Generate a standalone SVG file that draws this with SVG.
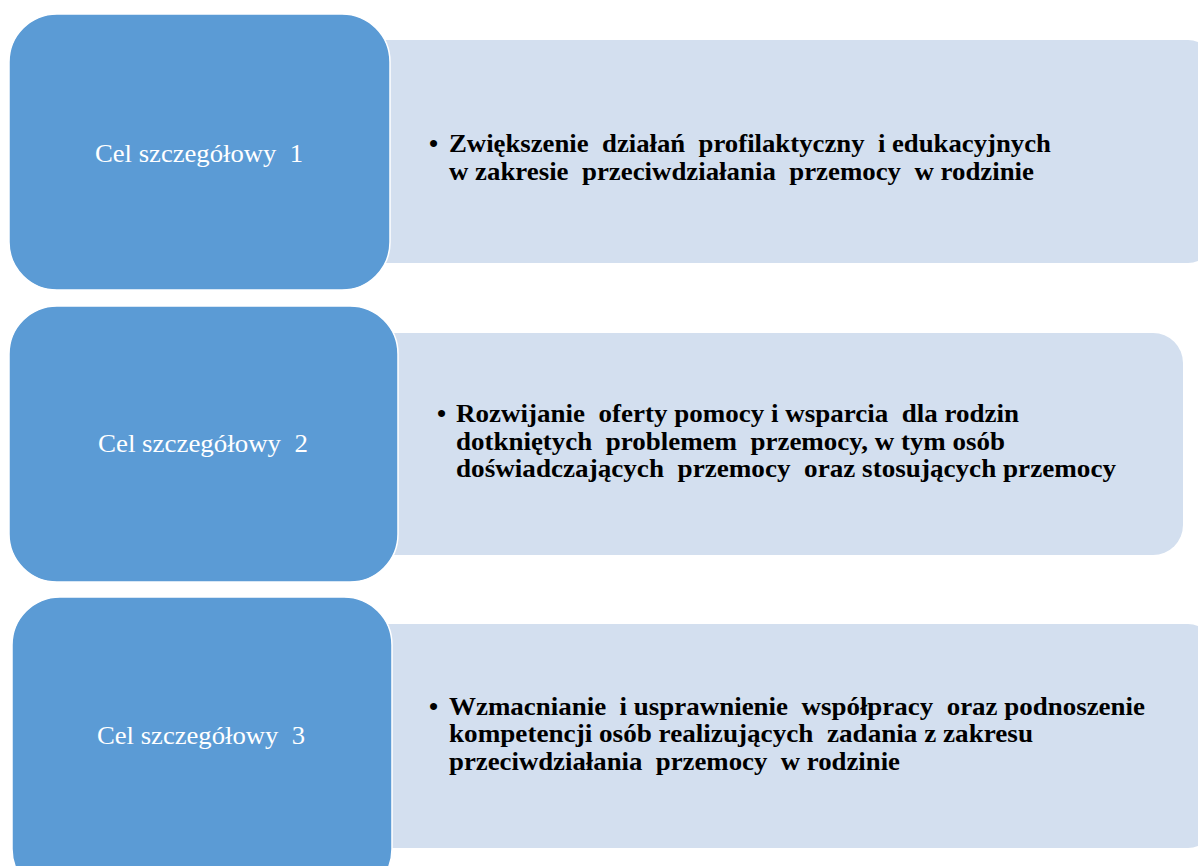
<svg xmlns="http://www.w3.org/2000/svg" width="1198" height="866" viewBox="0 0 1198 866">
<style>
.light{fill:#D3DFEF;}
.blue{fill:#5B9BD5;stroke:#ffffff;stroke-width:1.5;}
.lbl{font-family:"Liberation Serif","Times New Roman",serif;font-size:25px;fill:#ffffff;text-anchor:middle;white-space:pre;}
.body{font-family:"Liberation Serif","Times New Roman",serif;font-size:26px;font-weight:bold;fill:#000000;white-space:pre;}
</style>
<rect width="1198" height="866" fill="#ffffff"/>
<g id="connectors"></g>
<g id="detail1">
<rect class="light" x="360" y="40" width="854" height="223" rx="26"/>
<text class="body" x="429" y="152">•</text>
<text class="body" x="449" y="152" textLength="602" lengthAdjust="spacingAndGlyphs">Zwiększenie  działań  profilaktyczny  i edukacyjnych</text>
<text class="body" x="449" y="180" textLength="585" lengthAdjust="spacingAndGlyphs">w zakresie  przeciwdziałania  przemocy  w rodzinie</text>
</g>
<g id="detail2">
<rect class="light" x="360" y="333" width="823" height="222" rx="30"/>
<text class="body" x="437" y="422">•</text>
<text class="body" x="456" y="422" textLength="563" lengthAdjust="spacingAndGlyphs">Rozwijanie  oferty pomocy i wsparcia  dla rodzin</text>
<text class="body" x="456" y="450" textLength="549" lengthAdjust="spacingAndGlyphs">dotkniętych  problemem  przemocy, w tym osób</text>
<text class="body" x="456" y="477" textLength="660" lengthAdjust="spacingAndGlyphs">doświadczających  przemocy  oraz stosujących przemocy</text>
</g>
<g id="detail3">
<rect class="light" x="360" y="624" width="854" height="224" rx="26"/>
<text class="body" x="429" y="715">•</text>
<text class="body" x="449" y="715" textLength="696" lengthAdjust="spacingAndGlyphs">Wzmacnianie  i usprawnienie  współpracy  oraz podnoszenie</text>
<text class="body" x="449" y="742" textLength="584" lengthAdjust="spacingAndGlyphs">kompetencji osób realizujących  zadania z zakresu</text>
<text class="body" x="449" y="770" textLength="451" lengthAdjust="spacingAndGlyphs">przeciwdziałania  przemocy  w rodzinie</text>
</g>
<g id="goal1">
<rect class="blue" x="9" y="14" width="381" height="276" rx="48"/>
<text class="lbl" x="199" y="162" textLength="208" lengthAdjust="spacingAndGlyphs">Cel szczegółowy  1</text>
</g>
<g id="goal2">
<rect class="blue" x="9" y="306" width="389" height="276" rx="48"/>
<text class="lbl" x="203" y="452" textLength="210" lengthAdjust="spacingAndGlyphs">Cel szczegółowy  2</text>
</g>
<g id="goal3">
<rect class="blue" x="12" y="597" width="380" height="300" rx="48"/>
<text class="lbl" x="201" y="744" textLength="208" lengthAdjust="spacingAndGlyphs">Cel szczegółowy  3</text>
</g>
</svg>
